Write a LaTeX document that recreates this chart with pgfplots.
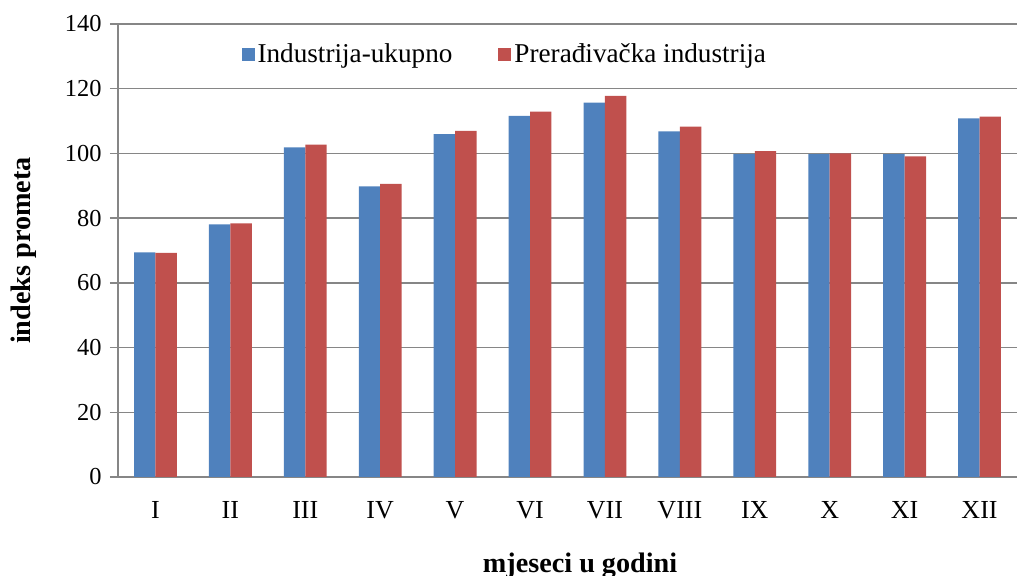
\documentclass[border=0pt]{standalone}
\usepackage{fontspec}
\setmainfont{Liberation Serif}
\usepackage{pgfplots}
\pgfplotsset{compat=1.18}
\definecolor{barblue}{HTML}{4F81BD}
\definecolor{barred}{HTML}{C0504D}
\definecolor{axisgray}{HTML}{868686}

\begin{document}
\fontsize{12}{14}\selectfont
\begin{tikzpicture}
\path[use as bounding box] (-59pt,-49.5pt) rectangle (450.5pt,238.5pt);
\begin{axis}[
  at={(0pt,0pt)}, anchor=south west,
  scale only axis,
  width=449.5pt, height=226.5pt,
  ybar=0pt, bar width=10.7pt,
  xmin=-0.5, xmax=11.5,
  ymin=0, ymax=140,
  xtick={0,...,11},
  xticklabels={I,II,III,IV,V,VI,VII,VIII,IX,X,XI,XII},
  ytick={0,20,...,140},
  axis lines=left,
  axis line style={-, draw=axisgray, line width=0.75pt},
  ymajorgrids=true,
  grid style={draw=axisgray, line width=0.75pt},
  major tick length=4pt,
  tick align=outside,
  tick style={draw=axisgray, line width=0.75pt},
  xtick style={draw=none},
  /pgf/number format/assume math mode=true,
  yticklabel style={font=\fontsize{12.2}{14}\selectfont},
  xticklabel style={yshift=-4pt, font=\fontsize{13}{15}\selectfont},
  xlabel={\bfseries mjeseci u godini},
  ylabel={\bfseries indeks prometa},
  xlabel style={at={(axis description cs:0.514,-0.195)}, anchor=center, font=\fontsize{14.1}{16}\selectfont},
  ylabel style={at={(axis description cs:-0.1045,0.5)}, anchor=center, font=\fontsize{14.1}{16}\selectfont},
  legend columns=2,
  legend style={at={(axis description cs:0.137,0.9316)}, anchor=west, draw=none, fill=none,
    inner sep=0pt, font=\fontsize{13.6}{15}\selectfont,
    /tikz/every even column/.append style={column sep=21.5pt},
    nodes={inner sep=1.5pt}},
  legend image code/.code={\fill[#1] (0pt,-3.2pt) rectangle (6.5pt,3.3pt);},
]
\addplot[fill=barblue, draw=none] coordinates {
  (0,69.4) (1,78.1) (2,101.9) (3,89.8) (4,106.0) (5,111.6)
  (6,115.7) (7,106.8) (8,99.8) (9,99.8) (10,99.8) (11,110.8)};
\addplot[fill=barred, draw=none] coordinates {
  (0,69.3) (1,78.4) (2,102.7) (3,90.6) (4,107.0) (5,112.9)
  (6,117.8) (7,108.3) (8,100.7) (9,100.0) (10,99.1) (11,111.4)};
\legend{Industrija-ukupno, Prerađivačka industrija}
\end{axis}
\end{tikzpicture}
\end{document}
